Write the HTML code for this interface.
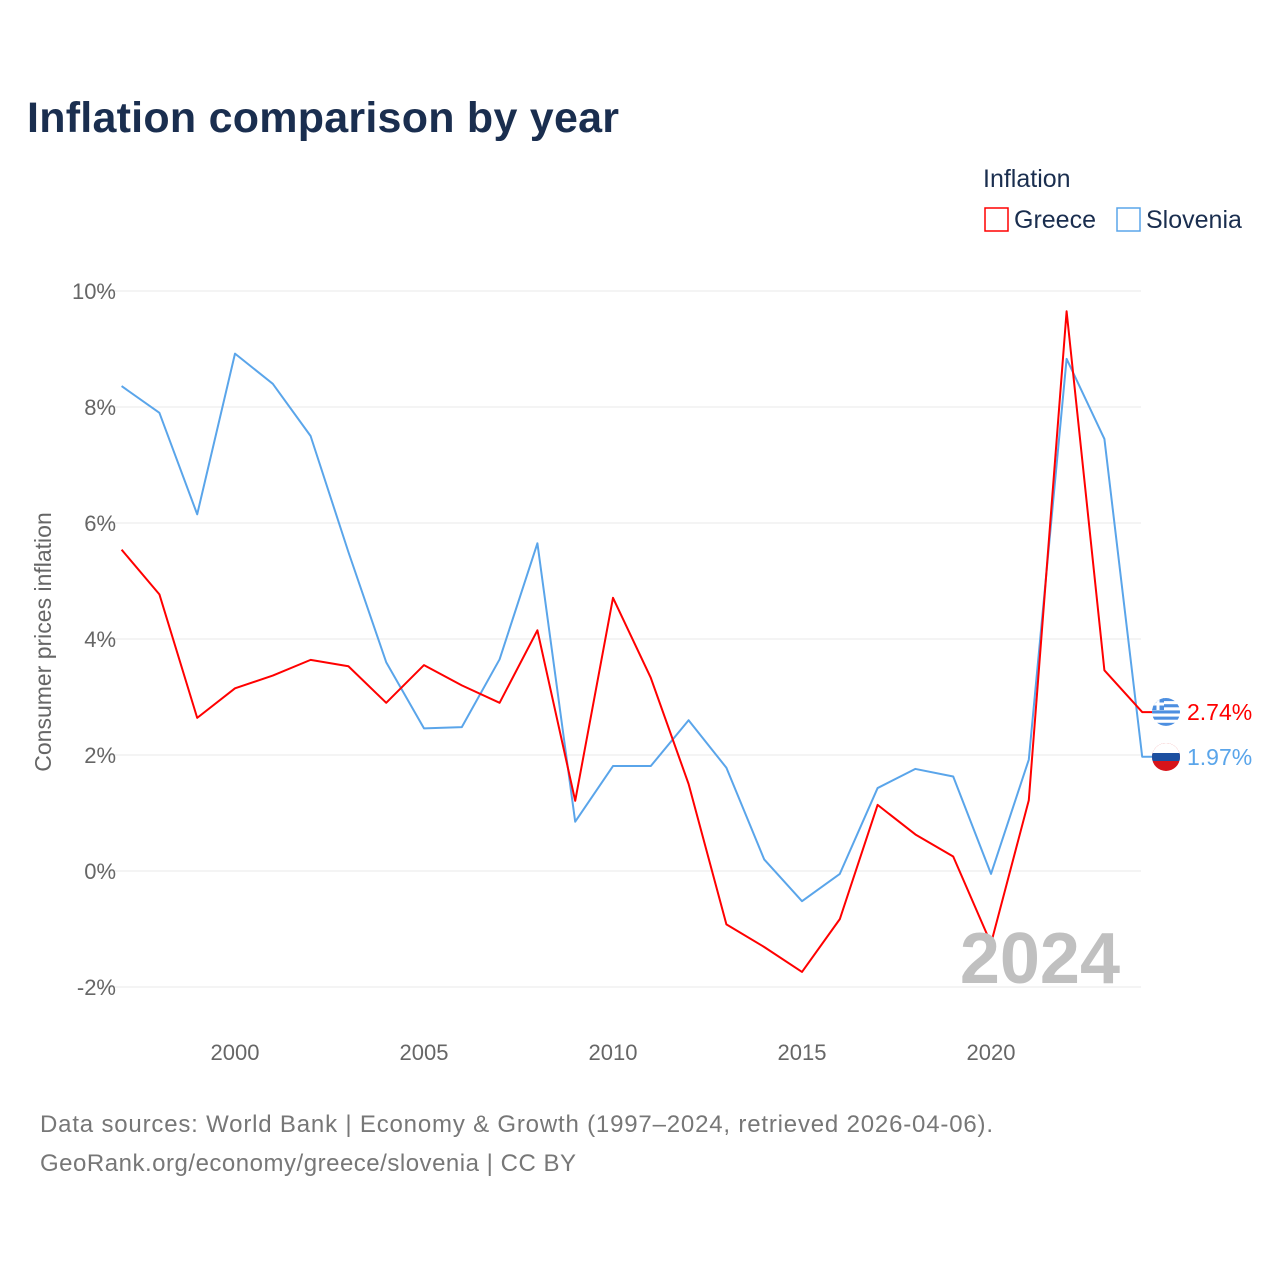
<!DOCTYPE html>
<html><head><meta charset="utf-8"><style>
body{margin:0;background:#fff;font-family:"Liberation Sans",sans-serif}
svg{display:block}
</style></head><body>
<svg id="c" width="1280" height="1280" xmlns="http://www.w3.org/2000/svg">
<defs>
<clipPath id="cg"><circle cx="1166" cy="712" r="14"/></clipPath>
<clipPath id="cs"><circle cx="1166" cy="757" r="14"/></clipPath>
</defs>
<text x="27" y="132" font-size="43" font-weight="bold" fill="#1a2e4f" textLength="592">Inflation comparison by year</text>
<text x="983" y="187" font-size="25" fill="#1a2e4f">Inflation</text>
<g><rect x="985" y="208" width="23" height="23" fill="none" stroke="#f00" stroke-width="1.5"/><text x="1014" y="228" font-size="25" fill="#1a2e4f">Greece</text></g>
<g><rect x="1117" y="208" width="23" height="23" fill="none" stroke="#5aa5ea" stroke-width="1.5"/><text x="1146" y="228" font-size="25" fill="#1a2e4f">Slovenia</text></g>
<g id="grid"></g><g id="series"></g>
<text transform="translate(51,642) rotate(-90)" text-anchor="middle" font-size="23" fill="#666">Consumer prices inflation</text>
<text x="1120" y="983" text-anchor="end" font-size="72" font-weight="bold" fill="#c0c0c0">2024</text>
<text x="40" y="1132" font-size="24" fill="#777" textLength="953">Data sources: World Bank | Economy &amp; Growth (1997–2024, retrieved 2026-04-06).</text>
<text x="40" y="1171" font-size="24" fill="#777" textLength="536">GeoRank.org/economy/greece/slovenia | CC BY</text>
</svg>
<script>
const years=[1997,1998,1999,2000,2001,2002,2003,2004,2005,2006,2007,2008,2009,2010,2011,2012,2013,2014,2015,2016,2017,2018,2019,2020,2021,2022,2023,2024];
const greece=[5.54,4.77,2.64,3.15,3.37,3.64,3.53,2.90,3.55,3.20,2.90,4.15,1.21,4.71,3.33,1.50,-0.92,-1.31,-1.74,-0.83,1.14,0.63,0.25,-1.25,1.22,9.65,3.46,2.74];
const slovenia=[8.36,7.90,6.15,8.92,8.40,7.50,5.50,3.60,2.46,2.48,3.65,5.65,0.85,1.81,1.81,2.60,1.78,0.20,-0.52,-0.05,1.43,1.76,1.63,-0.05,1.92,8.83,7.45,1.97];
const yTicks=[-2,0,2,4,6,8,10];
const xTicks=[2000,2005,2010,2015,2020];
const NS="http://www.w3.org/2000/svg";
const X=v=>235+(v-2000)*37.8, Y=v=>871-v*58;
function mk(t,a,p){const e=document.createElementNS(NS,t);for(const k in a)e.setAttribute(k,a[k]);p.appendChild(e);return e;}
const g=document.getElementById('grid'),s=document.getElementById('series');
yTicks.forEach(t=>{
 const l=mk('line',{x1:100,x2:1141,y1:Y(t),y2:Y(t),stroke:'#e8e8e8','stroke-width':1},g);
 
 
 const tx=mk('text',{x:116,y:Y(t)+8,'text-anchor':'end','font-size':22,fill:'#666'},g);tx.textContent=t+'%';
 
 
});
xTicks.forEach(t=>{
 const tx=mk('text',{x:X(t),y:1060,'text-anchor':'middle','font-size':22,fill:'#666'},g);tx.textContent=t;
 
 
});
function line(d,col,name){
 let p=d.map((v,i)=>X(years[i])+','+Y(v)).join(' ');
 p+=' '+(X(2024)+10)+','+Y(d[d.length-1]);
 const l=mk('polyline',{points:p,fill:'none',stroke:col,'stroke-width':2,'stroke-linejoin':'round'},s);
 
 
}
line(slovenia,'#5aa5ea','slovenia-line');line(greece,'#f00','greece-line');
function flag(v,type,col,name,cy){
 const cx=1166;
 const gr=mk('g',{'clip-path':type==='gr'?'url(#cg)':'url(#cs)'},s);
 
 
 if(type==='gr'){
  mk('rect',{x:cx-14,y:cy-14,width:28,height:28,fill:'#fff'},gr);
  for(let i=0;i<5;i++)mk('rect',{x:cx-14,y:cy-14+i*6.2,width:28,height:3.1,fill:'#4d8fe0'},gr);
  mk('rect',{x:cx-14,y:cy-14,width:12,height:12,fill:'#4d8fe0'},gr);
  mk('rect',{x:cx-9.5,y:cy-14,width:3,height:12,fill:'#fff'},gr);mk('rect',{x:cx-14,y:cy-9.5,width:12,height:3,fill:'#fff'},gr);
 }else{
  mk('rect',{x:cx-14,y:cy-14,width:28,height:28,fill:'#d7141a'},gr);
  mk('rect',{x:cx-14,y:cy-14,width:28,height:10,fill:'#fff'},gr);
  mk('rect',{x:cx-14,y:cy-4,width:28,height:8,fill:'#1c4fa0'},gr);
 }
 const t=mk('text',{x:1187,y:cy+8,'font-size':23,fill:col},s);t.textContent=v.toFixed(2)+'%';
 
 
}
flag(greece[greece.length-1],'gr','#f00','greece',712);
flag(slovenia[slovenia.length-1],'si','#5aa5ea','slovenia',757);
</script>
</body></html>
